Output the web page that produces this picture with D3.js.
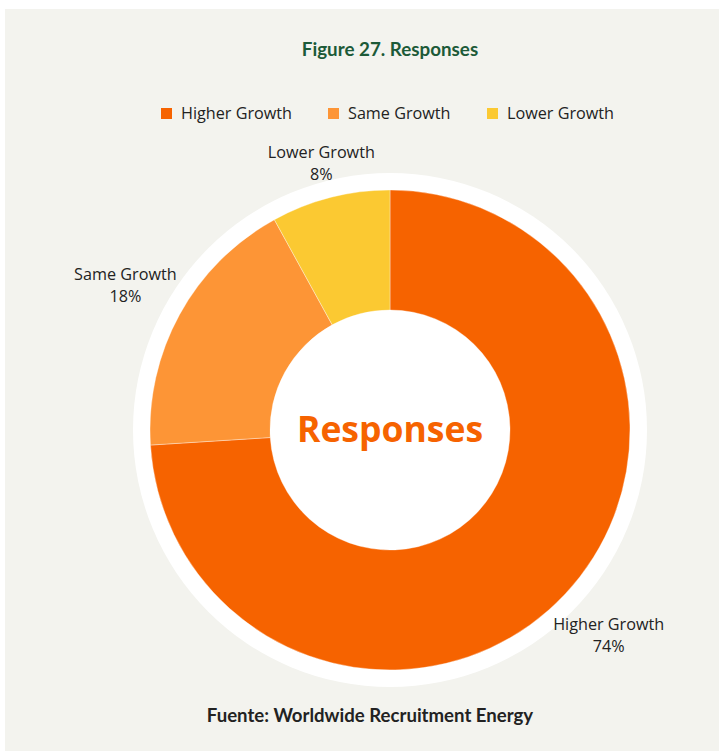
<!DOCTYPE html>
<html>
<head>
<meta charset="utf-8">
<script src="https://cdn.jsdelivr.net/npm/d3@7"></script>
<style>
  html, body { margin: 0; padding: 0; background: #ffffff; }
  svg { display: block; }
</style>
</head>
<body>
<svg id="chart" width="719" height="751"></svg>
<script>
// Survey responses
const categories = ["Higher Growth", "Same Growth", "Lower Growth"];
const values = [74, 18, 8];
const colors = ["#F66300", "#FD9536", "#FBC932"];
const labelRadius = [300, 302, 276];

const W = 719, H = 751;
const cx = 390, cy = 430;
const outerR = 240, innerR = 120, ringR = 257;

const svg = d3.select("#chart");

// panel background
svg.append("rect")
  .attr("x", 5).attr("y", 9)
  .attr("width", W - 5).attr("height", H - 9)
  .attr("fill", "#F3F3EE");

// title
svg.append("text")
  .attr("x", cx).attr("y", 56)
  .attr("text-anchor", "middle")
  .attr("font-family", "Lato, sans-serif")
  .attr("font-weight", 700)
  .attr("font-size", 18.8)
  .attr("fill", "#1C5A38")
  .text("Figure 27. Responses");

// legend
const legendX = [161, 328, 487];
const legend = svg.append("g");
categories.forEach((c, i) => {
  const g = legend.append("g").attr("transform", `translate(${legendX[i]},108)`);
  g.append("rect").attr("width", 11).attr("height", 11).attr("fill", colors[i]);
  g.append("text")
    .attr("x", 20).attr("y", 11)
    .attr("font-family", "'Open Sans', sans-serif")
    .attr("font-size", 16.2)
    .attr("fill", "#222")
    .text(c);
});

const data = categories.map((c, i) => ({ name: c, value: values[i], color: colors[i], lr: labelRadius[i] }));

const pie = d3.pie().value(d => d.value).sort(null);
const arcs = pie(data);

const g = svg.append("g").attr("transform", `translate(${cx},${cy})`);

// white ring behind the donut
g.append("circle").attr("r", ringR).attr("fill", "#ffffff");

const arc = d3.arc().innerRadius(innerR).outerRadius(outerR);

g.selectAll("path.slice")
  .data(arcs)
  .enter().append("path")
  .attr("class", "slice")
  .attr("d", arc)
  .attr("fill", d => d.data.color)
  .attr("stroke", "#ffffff")
  .attr("stroke-opacity", 0.6)
  .attr("stroke-width", 0.6);

// outside labels
const total = d3.sum(values);
arcs.forEach(d => {
  const a = (d.startAngle + d.endAngle) / 2;
  const x = Math.sin(a) * d.data.lr;
  const y = -Math.cos(a) * d.data.lr;
  const t = g.append("text")
    .attr("text-anchor", "middle")
    .attr("font-family", "'Open Sans', sans-serif")
    .attr("font-size", 16.2)
    .attr("fill", "#222");
  t.append("tspan").attr("x", x).attr("y", y - 5).text(d.data.name);
  t.append("tspan").attr("x", x).attr("y", y + 17).text(Math.round(d.data.value / total * 100) + "%");
});

// center label
g.append("text")
  .attr("x", 0).attr("y", 12)
  .attr("text-anchor", "middle")
  .attr("font-family", "'Open Sans', sans-serif")
  .attr("font-weight", 700)
  .attr("font-size", 35.5)
  .attr("fill", "#F66300")
  .text("Responses");

// source note
svg.append("text")
  .attr("x", 370).attr("y", 722)
  .attr("text-anchor", "middle")
  .attr("font-family", "Lato, sans-serif")
  .attr("font-weight", 700)
  .attr("font-size", 18.6)
  .attr("fill", "#222")
  .text("Fuente: Worldwide Recruitment Energy");
</script>
</body>
</html>
